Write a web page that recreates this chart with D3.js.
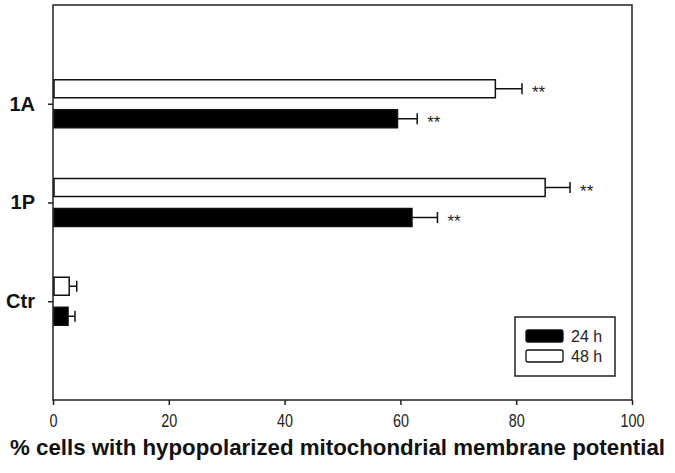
<!DOCTYPE html>
<html>
<head>
<meta charset="utf-8">
<script src="https://cdn.jsdelivr.net/npm/d3@7"></script>
<style>
  body { margin: 0; background: #fff; }
</style>
</head>
<body>
<div id="chart"></div>
<script>
var categories = ["Ctr", "1P", "1A"];
var series = ["24 h", "48 h"];
var values24 = [2.6, 62.0, 59.5];
var errors24 = [1.2, 4.4, 3.4];
var values48 = [2.8, 85.0, 76.4];
var errors48 = [1.3, 4.3, 4.6];
var stars24 = ["", "**", "**"];
var stars48 = ["", "**", "**"];
var xTicks = [0, 20, 40, 60, 80, 100];

function init()
{
    var w = 675;
    var h = 473;
    var left = 53, right = 632, top = 5, bottom = 400;
    var barH = 18;
    var gap = 6;

    var svg = d3.select("#chart")
                .append("svg")
                .attr("width", w)
                .attr("height", h);

    var x = d3.scaleLinear().domain([0, 100]).range([left, right]);
    var y = d3.scaleLinear().domain([0, 4]).range([bottom, top]);

    // frame
    svg.append("rect")
        .attr("x", left)
        .attr("y", top)
        .attr("width", right - left)
        .attr("height", bottom - top)
        .attr("fill", "none")
        .attr("stroke", "#222")
        .attr("stroke-width", 1.5);

    // x axis
    var xAxis = d3.axisBottom(x).tickValues(xTicks).tickSize(5).tickPadding(9);
    var gx = svg.append("g")
        .attr("transform", "translate(0," + bottom + ")")
        .call(xAxis);
    gx.select(".domain").remove();
    gx.selectAll("line").attr("stroke", "#222").attr("stroke-width", 1.5);
    gx.selectAll("text")
        .attr("fill", "#222")
        .attr("transform", "scale(0.8,1)")
        .style("font-family", "Arial, 'Liberation Sans', sans-serif")
        .style("font-size", "18px");

    // y axis
    var yAxis = d3.axisLeft(y)
        .tickValues([1, 2, 3])
        .tickFormat(function(d) { return categories[d - 1]; })
        .tickSize(5)
        .tickPadding(13);
    var gy = svg.append("g")
        .attr("transform", "translate(" + left + ",0)")
        .call(yAxis);
    gy.select(".domain").remove();
    gy.selectAll("line").attr("stroke", "#222").attr("stroke-width", 1.5);
    gy.selectAll("text")
        .attr("fill", "#111")
        .style("font-family", "Arial, 'Liberation Sans', sans-serif")
        .style("font-size", "20px")
        .style("font-weight", "bold");

    var data = categories.map(function(c, i) {
        return [
            { cat: i + 1, v: values48[i], e: errors48[i], s: stars48[i], fill: "#fff", off: -gap - barH },
            { cat: i + 1, v: values24[i], e: errors24[i], s: stars24[i], fill: "#000", off: gap }
        ];
    });
    var flat = [].concat.apply([], data);

    var g = svg.append("g");

    // error bars
    g.selectAll(".err")
        .data(flat)
        .enter()
        .append("line")
        .attr("x1", function(d) { return x(d.v); })
        .attr("x2", function(d) { return x(d.v + d.e); })
        .attr("y1", function(d) { return y(d.cat) + d.off + barH / 2; })
        .attr("y2", function(d) { return y(d.cat) + d.off + barH / 2; })
        .attr("stroke", "#111")
        .attr("stroke-width", 1.5);

    g.selectAll(".cap")
        .data(flat)
        .enter()
        .append("line")
        .attr("x1", function(d) { return x(d.v + d.e); })
        .attr("x2", function(d) { return x(d.v + d.e); })
        .attr("y1", function(d) { return y(d.cat) + d.off + barH / 2 - 5.5; })
        .attr("y2", function(d) { return y(d.cat) + d.off + barH / 2 + 5.5; })
        .attr("stroke", "#111")
        .attr("stroke-width", 1.5);

    // bars
    g.selectAll(".bar")
        .data(flat)
        .enter()
        .append("rect")
        .attr("x", x(0) + 1)
        .attr("y", function(d) { return y(d.cat) + d.off; })
        .attr("width", function(d) { return x(d.v) - x(0) - 1; })
        .attr("height", barH)
        .attr("fill", function(d) { return d.fill; })
        .attr("stroke", "#111")
        .attr("stroke-width", 1.5);

    // significance stars
    g.selectAll(".star")
        .data(flat.filter(function(d) { return d.s; }))
        .enter()
        .append("text")
        .attr("x", function(d) { return x(d.v + d.e) + 10; })
        .attr("y", function(d) { return y(d.cat) + d.off + barH / 2 + 9; })
        .attr("fill", "#222")
        .style("font-family", "Arial, 'Liberation Sans', sans-serif")
        .style("font-size", "17px")
        .text(function(d) { return d.s; });

    // legend
    var lg = svg.append("g");
    lg.append("rect")
        .attr("x", 515).attr("y", 317)
        .attr("width", 100).attr("height", 59)
        .attr("fill", "#fff")
        .attr("stroke", "#222")
        .attr("stroke-width", 1.5);
    var legFills = ["#000", "#fff"];
    series.forEach(function(s, i) {
        lg.append("rect")
            .attr("x", 526).attr("y", 330 + i * 20)
            .attr("width", 37).attr("height", 12)
            .attr("rx", 2)
            .attr("fill", legFills[i])
            .attr("stroke", "#111")
            .attr("stroke-width", 1.3);
        lg.append("text")
            .attr("x", 571).attr("y", 342 + i * 20)
            .attr("fill", "#222")
            .style("font-family", "Arial, 'Liberation Sans', sans-serif")
            .style("font-size", "16px")
            .text(s);
    });

    // axis title
    svg.append("text")
        .attr("x", 10)
        .attr("y", 455)
        .attr("textLength", 655)
        .attr("lengthAdjust", "spacingAndGlyphs")
        .attr("fill", "#111")
        .style("font-family", "Arial, 'Liberation Sans', sans-serif")
        .style("font-size", "22px")
        .style("font-weight", "bold")
        .text("% cells with hypopolarized mitochondrial membrane potential");
}
window.onload = init;
</script>
</body>
</html>
